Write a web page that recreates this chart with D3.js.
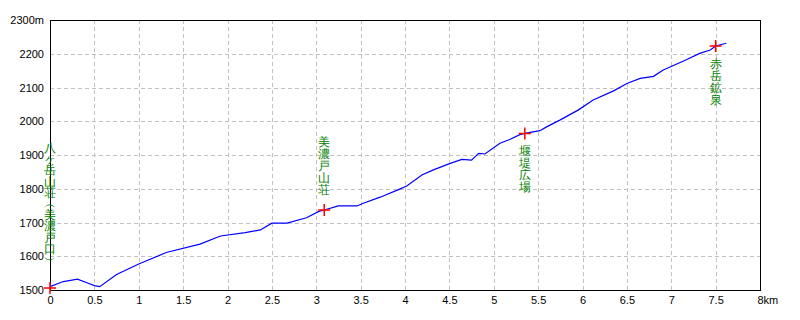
<!DOCTYPE html>
<html>
<head>
<meta charset="utf-8">
<script src="https://cdn.jsdelivr.net/npm/d3@7"></script>
<style>
  body { margin: 0; background: #fff; }
  svg text { font-family: "Liberation Sans", Arial, sans-serif; }
</style>
</head>
<body>
<svg id="chart" width="800" height="320"></svg>
<script>
// elevation profile, distance in km / elevation in m
var distKm = [0, 0.15, 0.31, 0.43, 0.5, 0.56, 0.75, 1.0, 1.31, 1.69, 1.92, 2.2, 2.37, 2.5, 2.67, 2.89, 3.03, 3.09, 3.25, 3.46, 3.53, 3.72, 3.94, 4.02, 4.19, 4.32, 4.51, 4.64, 4.75, 4.83, 4.9, 5.07, 5.18, 5.3, 5.35, 5.52, 5.6, 5.75, 5.95, 6.12, 6.35, 6.5, 6.65, 6.8, 6.91, 7.17, 7.32, 7.44, 7.5, 7.62];
var elevM = [1510, 1525, 1532, 1520, 1513, 1510, 1546, 1577, 1611, 1636, 1660, 1670, 1678, 1698, 1698, 1714, 1733, 1737, 1749, 1749, 1757, 1775, 1799, 1808, 1841, 1856, 1875, 1887, 1885, 1905, 1903, 1935, 1946, 1961, 1964, 1972, 1984, 2004, 2033, 2063, 2090, 2112, 2127, 2133, 2152, 2182, 2201, 2211, 2223, 2231];

// waypoints (vertical labels, parentheses in vertical form)
var wpNames = ["八ヶ岳山荘︵美濃戸口︶", "美濃戸山荘", "堰堤広場", "赤岳鉱泉"];
var wpDist = [0, 3.09, 5.35, 7.5];
var wpElev = [1506, 1737, 1964, 2223];
var wpAbove = [true, true, false, false];

var xTicks = d3.range(0, 8.01, 0.5);
var yTicks = [1500, 1600, 1700, 1800, 1900, 2000, 2100, 2200, 2300];

var svg = d3.select("#chart");
var x = d3.scaleLinear().domain([0, 8]).range([50, 760]);
var y = d3.scaleLinear().domain([1500, 2300]).range([290, 20]);

//grid
svg.append("g").selectAll("line")
    .data(xTicks.filter(function(d) { return d > 0 && d < 8; }))
    .enter().append("line")
    .attr("x1", function(d) { return Math.round(x(d)) + 0.5; })
    .attr("x2", function(d) { return Math.round(x(d)) + 0.5; })
    .attr("y1", y(2300)).attr("y2", y(1500))
    .attr("stroke", "#c0c0c0").attr("stroke-dasharray", "4,3");
svg.append("g").selectAll("line")
    .data(yTicks.filter(function(d) { return d > 1500 && d < 2300; }))
    .enter().append("line")
    .attr("y1", function(d) { return Math.round(y(d)) + 0.5; })
    .attr("y2", function(d) { return Math.round(y(d)) + 0.5; })
    .attr("x1", x(0)).attr("x2", x(8))
    .attr("stroke", "#c0c0c0").attr("stroke-dasharray", "4,3");

//frame
svg.append("rect")
    .attr("x", x(0) + 0.5).attr("y", y(2300) + 0.5)
    .attr("width", x(8) - x(0)).attr("height", y(1500) - y(2300))
    .attr("fill", "none").attr("stroke", "#000");

//axes (labels only)
var yAxis = d3.axisLeft(y).tickValues(yTicks).tickSize(0).tickPadding(6)
    .tickFormat(function(d) { return d === 2300 ? "2300m" : d; });
var gy = svg.append("g").attr("transform", "translate(" + x(0) + ",0)").call(yAxis);
gy.select(".domain").remove();
gy.selectAll("text").attr("font-size", 11).attr("fill", "#000").attr("font-family", "Liberation Sans, Arial, sans-serif");

var xAxis = d3.axisBottom(x).tickValues(xTicks).tickSize(0).tickPadding(6)
    .tickFormat(function(d) { return d === 8 ? "8km" : d3.format("~g")(d); });
var gx = svg.append("g").attr("transform", "translate(0," + y(1500) + ")").call(xAxis);
gx.select(".domain").remove();
gx.selectAll("text").attr("font-size", 11).attr("fill", "#000").attr("font-family", "Liberation Sans, Arial, sans-serif");
gx.selectAll("text").filter(function(d) { return d === 8; })
    .attr("text-anchor", "start").attr("dx", -3);

//profile
var line = d3.line()
    .x(function(d, i) { return x(distKm[i]); })
    .y(function(d) { return y(d); });
svg.append("path")
    .datum(elevM)
    .attr("d", line)
    .attr("fill", "none")
    .attr("stroke", "#0000ff")
    .attr("stroke-width", 1.2);

//waypoint markers
var wp = svg.append("g").selectAll("g")
    .data(wpNames)
    .enter().append("g")
    .attr("transform", function(d, i) { return "translate(" + x(wpDist[i]) + "," + y(wpElev[i]) + ")"; });
wp.append("path")
    .attr("d", "M-6,0H6M0,-6V6")
    .attr("stroke", "#ff0000")
    .attr("stroke-width", 1.5);

//vertical labels, one glyph per row
wp.each(function(name, i) {
    var chars = Array.from(name);
    var step = chars.length > 6 ? 11.2 : 12;
    var start = wpAbove[i]
        ? -(i === 0 ? 28 : 20) - (chars.length - 1) * step
        : 18;
    d3.select(this).append("g").selectAll("text")
        .data(chars)
        .enter().append("text")
        .text(function(c) { return c; })
        .attr("x", 0)
        .attr("y", function(c, k) { return start + k * step; })
        .attr("text-anchor", "middle")
        .attr("dominant-baseline", "central")
        .attr("font-family", "Noto Sans CJK JP")
        .attr("font-size", 12)
        .attr("fill", "#008000");
});
</script>
</body>
</html>
